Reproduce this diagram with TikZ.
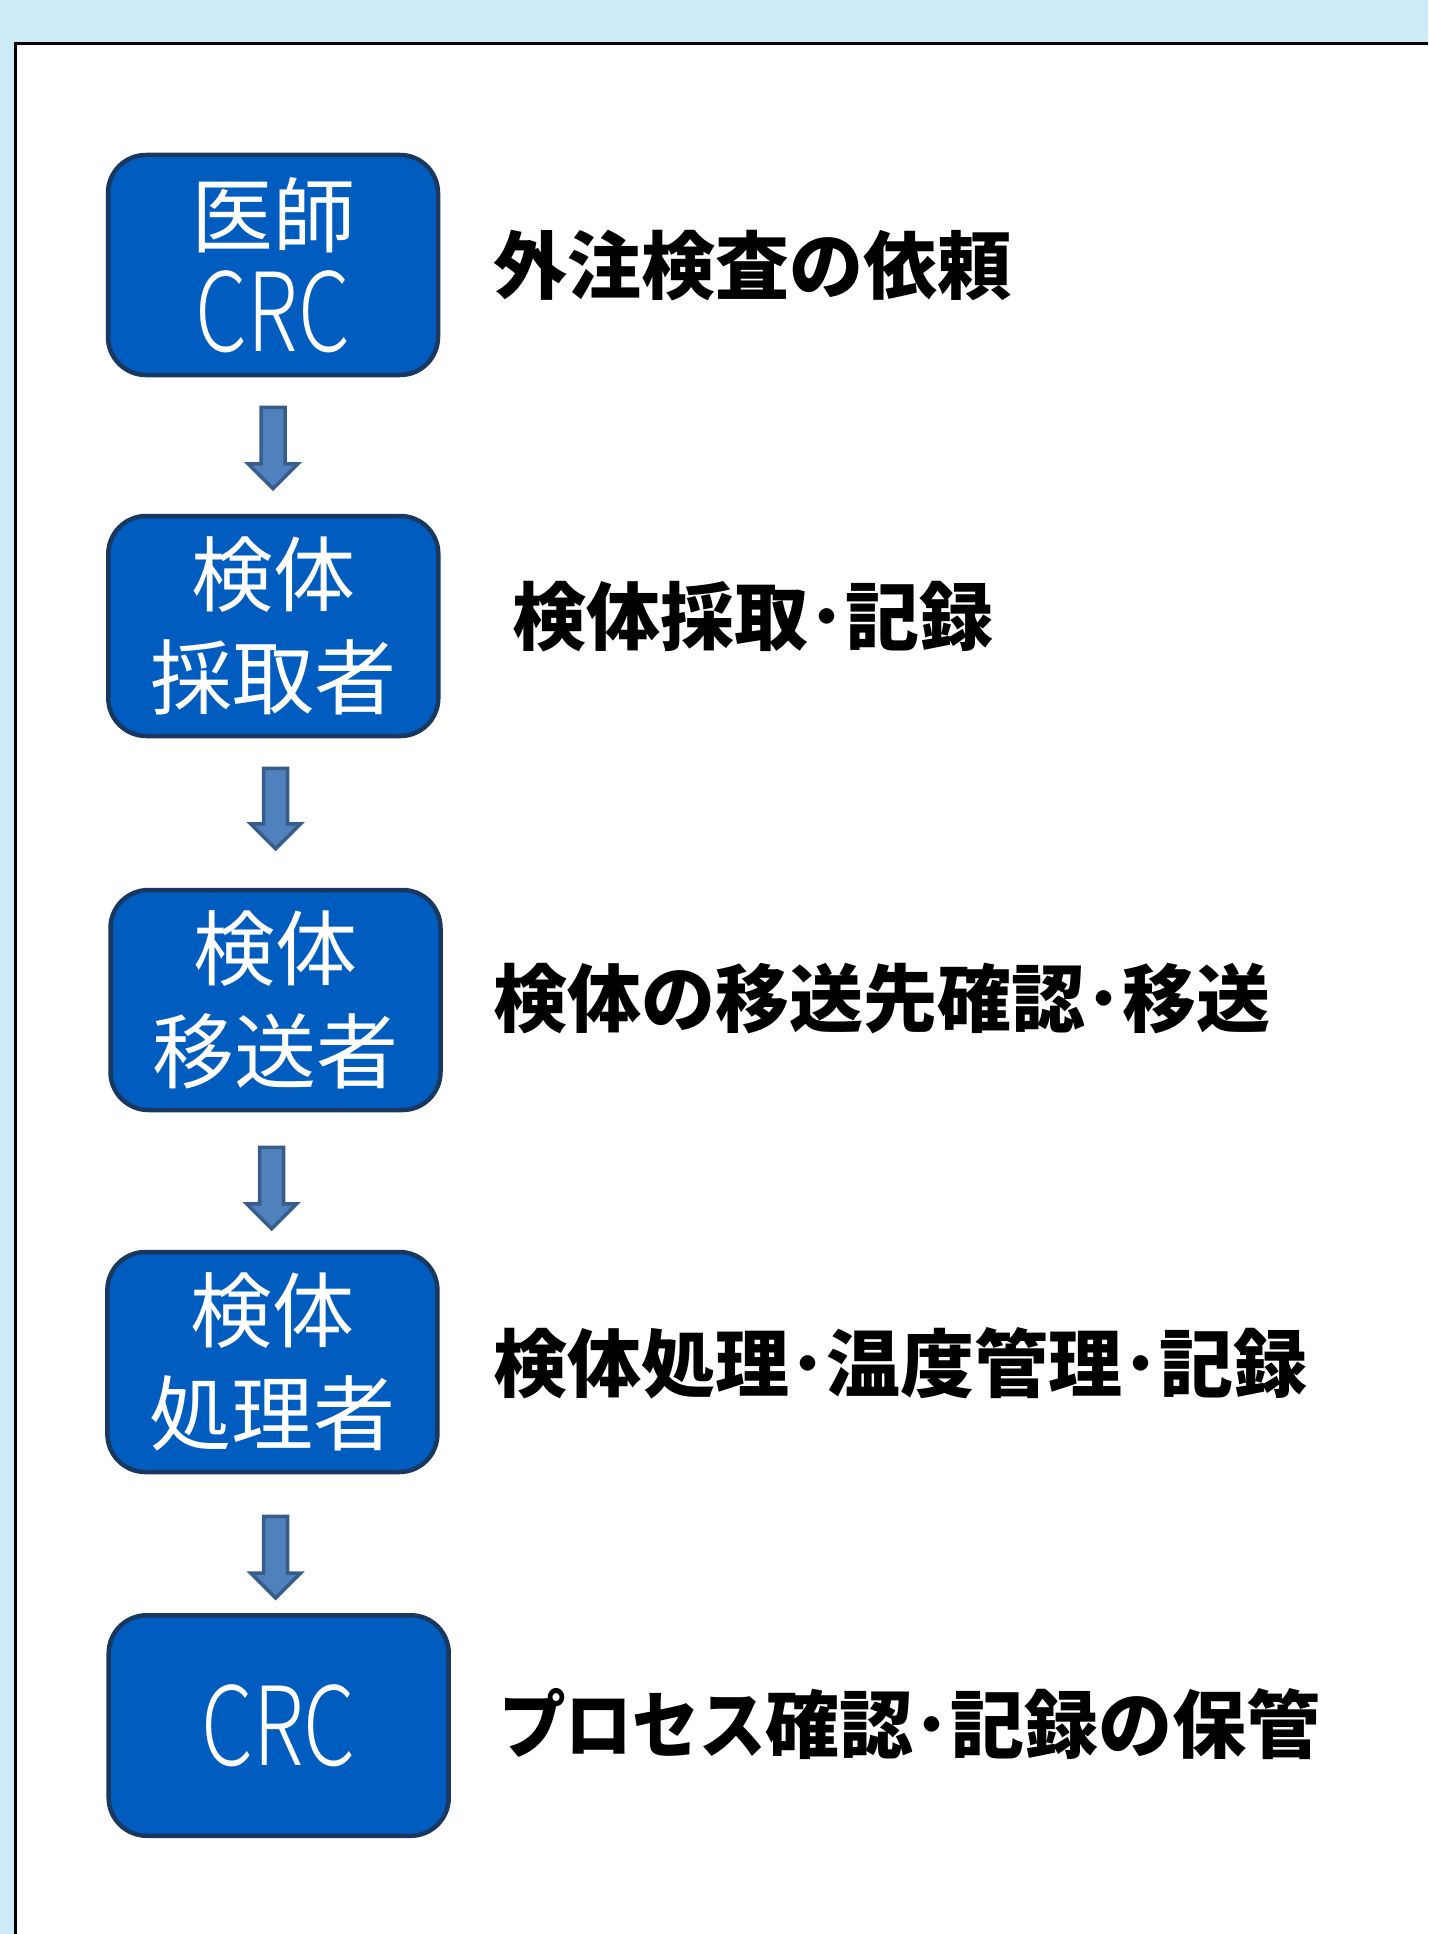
\documentclass[tikz,border=0pt]{standalone}
\usepackage{fontspec}
\usetikzlibrary{calc}
\newfontfamily\jp{Noto Sans CJK JP}
\IfFontExistsTF{Noto Sans CJK JP Light}
  {\newfontfamily\crcfont{Noto Sans CJK JP Light}[FakeStretch=0.76]}
  {\newfontfamily\crcfont{Noto Sans CJK JP}[FakeStretch=0.76]}
\definecolor{bandblue}{RGB}{204,235,246}
\definecolor{boxfill}{RGB}{0,93,191}
\definecolor{boxline}{RGB}{24,56,96}
\definecolor{arrfill}{RGB}{79,129,189}
\definecolor{arrline}{RGB}{56,93,138}
\newcommand\flowarrow[5]{%
  \coordinate (#1-as) at ($(#1.south)+(#5,#3)$);
  \coordinate (#1-ae) at ($(#1-as |- #2.north)+(0,-#4)$);
  \draw[blockarrow] ($(#1-as)+(-12,0)$) -- ($(#1-as)+(12,0)$) -- ($(#1-ae)+(12,-25)$)
    -- ($(#1-ae)+(25,-25)$) -- (#1-ae) -- ($(#1-ae)+(-25,-25)$) -- ($(#1-ae)+(-12,-25)$) -- cycle;
}
\begin{document}
\begin{tikzpicture}[x=1pt,y=-1pt,
  stepbox/.style={draw=boxline, fill=boxfill, line width=4.5pt, rounded corners=38pt,
    minimum width=330pt, minimum height=220pt, inner sep=0pt, text=white, align=center,
    font=\jp\fontsize{82}{103}\selectfont},
  desc/.style={anchor=west, inner sep=0pt, font=\jp\bfseries\fontsize{74}{90}\selectfont},
  blockarrow/.style={fill=arrfill, draw=arrline, line width=3.5pt, line join=miter}]
\useasboundingbox (0,0) rectangle (1428,1934);
\fill[bandblue] (0,0) rectangle (1428,1934);
\fill[white] (15,44) rectangle (1428,1934);
\draw[line width=3pt, line join=miter] (1428,44) -- (15,44) -- (15,1934);

\node[stepbox] (b1) at (273,265) {医師\\[2pt]{\crcfont\fontsize{109}{109}\selectfont CRC}};
\node[stepbox] (b2) at (273.3,626) {検体\\採取者};
\node[stepbox] (b3) at (275.5,1000) {検体\\移送者};
\node[stepbox] (b4) at (272.4,1362) {検体\\処理者};
\node[stepbox, minimum width=340pt, minimum height=220.5pt] (b5) at (278.7,1725.5) {{\crcfont\fontsize{109}{109}\selectfont CRC}};

\flowarrow{b1}{b2}{30}{25}{0}
\flowarrow{b2}{b3}{30}{39}{2.4}
\flowarrow{b3}{b4}{35}{21}{-3.8}
\flowarrow{b4}{b5}{42}{15}{3.3}

\node[desc] (t1) at (493,266) {外注検査の依頼};
\node[desc] (t2) at (512,617) {検体採取･記録};
\node[desc] (t3) at (493,999) {検体の移送先確認･移送};
\node[desc] (t4) at (493,1363) {検体処理･温度管理･記録};
\node[desc] (t5) at (499,1724) {\scalebox{0.9}[1]{プロセス}確認･記録の保管};
\end{tikzpicture}
\end{document}
